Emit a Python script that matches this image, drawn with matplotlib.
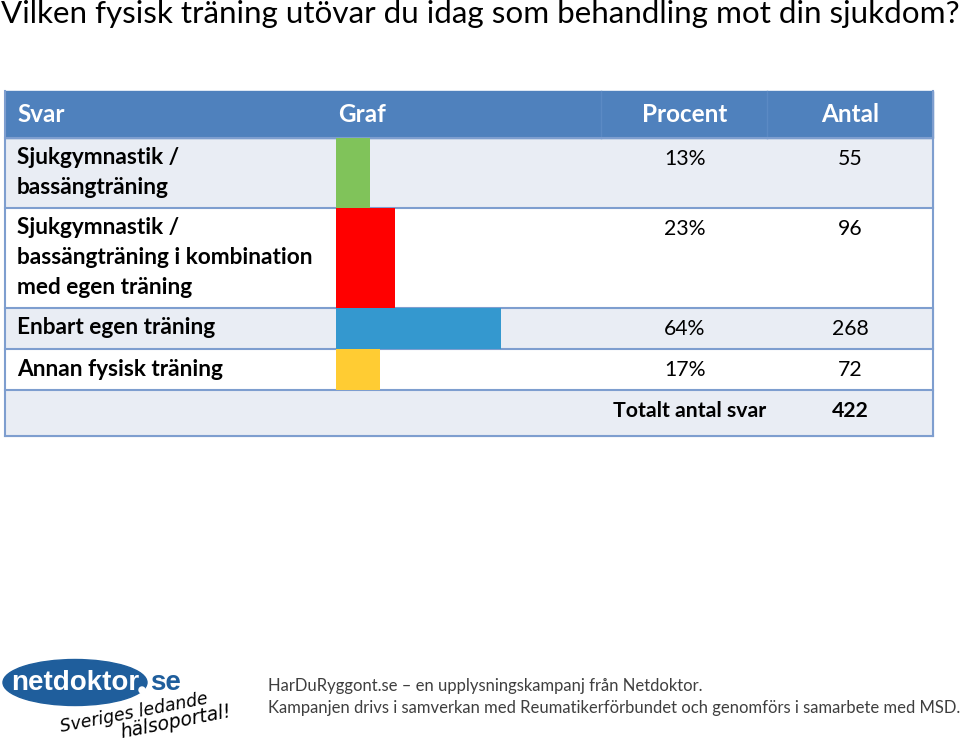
import matplotlib
matplotlib.use("Agg")
import matplotlib.pyplot as plt
from matplotlib.patches import Rectangle, Ellipse, Circle

# data
labels = [
    "Sjukgymnastik /\nbassängträning",
    "Sjukgymnastik /\nbassängträning i kombination\nmed egen träning",
    "Enbart egen träning",
    "Annan fysisk träning",
]
pct = [13, 23, 64, 17]
antal = [55, 96, 268, 72]
total = 422
bar_colors = ["#80C35A", "#FF0000", "#3498CF", "#FFCC33"]
headers = ["Svar", "Graf", "Procent", "Antal"]

# layout (pixels)
W, H = 960, 742
left, right = 5, 933
graf_x = 336
pct_cx, ant_cx = 685, 850
header_top, header_h = 91, 47
row_h = [70, 100, 41, 41]
total_h = 46
head_blue = "#4F81BD"
light = "#E9EDF4"
line_col = "#7E9ECF"
font_b = "Lato"
logo_blue = "#1F5E9C"

fig = plt.figure(figsize=(W / 100, H / 100), dpi=100)
ax = fig.add_axes([0, 0, 1, 1])
ax.set_xlim(0, W)
ax.set_ylim(H, 0)
ax.axis("off")

ax.text(1, 14, "Vilken fysisk träning utövar du idag som behandling mot din sjukdom?",
        fontsize=22.6, family=font_b, va="center", ha="left")

# header
ax.add_patch(Rectangle((left, header_top), right - left, header_h, color=head_blue, zorder=1))
for xd in (601, 767):
    ax.plot([xd, xd], [header_top, header_top + header_h], color="#5B8AC4", lw=1, zorder=2)
hy = header_top + header_h / 2
hkw = dict(color="white", fontsize=17.5, weight="bold", family=font_b, va="center")
ax.text(17, hy, headers[0], **hkw)
ax.text(338, hy, headers[1], **hkw)
ax.text(pct_cx, hy, headers[2], ha="center", **hkw)
ax.text(ant_cx, hy, headers[3], ha="center", **hkw)

# row rectangles
tops = []
y = header_top + header_h
for i, h in enumerate(row_h + [total_h]):
    tops.append(y)
    ax.add_patch(Rectangle((left, y), right - left, h,
                           color=light if i % 2 == 0 else "white", zorder=0))
    y += h
bottom = y

# row text
for i, lab in enumerate(labels):
    top = tops[i]
    for k, line in enumerate(lab.split("\n")):
        ax.text(17, top + 20 + 30 * k, line, fontsize=16.3, weight="bold", family=font_b,
                va="center")
    ax.text(pct_cx, top + 21, f"{pct[i]}%", fontsize=15.3, family=font_b, va="center", ha="center")
    ax.text(ant_cx, top + 21, str(antal[i]), fontsize=15.3, family=font_b, va="center", ha="center")

ty = tops[-1] + 21
ax.text(690, ty, "Totalt antal svar", fontsize=15.3, weight="bold", family=font_b,
        va="center", ha="center")
ax.text(ant_cx, ty, str(total), fontsize=15.3, weight="bold", family=font_b,
        va="center", ha="center")

# bars in their own axes (x in percent, y in pixels)
bax = fig.add_axes([graf_x / W, 1 - (tops[4]) / H, (right - graf_x) / W,
                    (tops[4] - tops[0]) / H])
bax.set_xlim(0, (right - graf_x) / 2.58)
bax.set_ylim(tops[4], tops[0])
centers = [tops[i] + row_h[i] / 2 for i in range(4)]
bax.barh(centers, pct, height=row_h, left=0, color=bar_colors)
bax.axis("off")

# grid lines
for yl in tops + [bottom]:
    ax.plot([left, right], [yl, yl], color=line_col, lw=1.5, zorder=3)
ax.plot([left, left], [header_top, bottom], color=line_col, lw=1.5, zorder=3)
ax.plot([right, right], [header_top, bottom], color=line_col, lw=1.5, zorder=3)

# footer logo
ax.add_patch(Ellipse((75, 682.5), 144, 46, color=logo_blue, zorder=2))
ax.text(75, 683, "netdoktor", color="white", fontsize=20, weight="bold",
        family="Liberation Sans", ha="center", va="center", zorder=3)
ax.add_patch(Circle((142, 690), 3, color="white", zorder=4))
ax.text(150, 683, "se", color=logo_blue, fontsize=20, weight="bold",
        family="Liberation Sans", ha="left", va="center")
ax.text(61, 732, "Sveriges ledande", fontsize=12.5, style="italic", family="DejaVu Sans",
        rotation=11, rotation_mode="anchor", va="baseline", ha="left")
ax.text(122, 738, "hälsoportal!", fontsize=13.5, style="italic", family="DejaVu Sans",
        rotation=11, rotation_mode="anchor", va="baseline", ha="left")

ax.text(268, 686, "HarDuRyggont.se – en upplysningskampanj från Netdoktor.",
        fontsize=12, color="#3F3F3F", family=font_b, va="center")
ax.text(268, 708, "Kampanjen drivs i samverkan med Reumatikerförbundet och genomförs i samarbete med MSD.",
        fontsize=12, color="#3F3F3F", family=font_b, va="center")

fig.savefig("out.png", dpi=100)
